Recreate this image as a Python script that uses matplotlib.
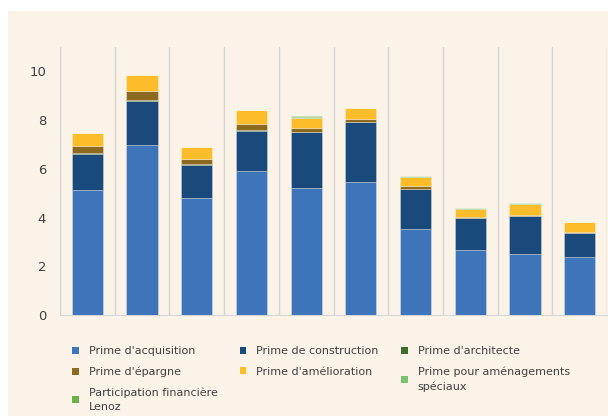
import matplotlib
matplotlib.use("Agg")
import matplotlib.pyplot as plt
from matplotlib.patches import Rectangle, Patch
import numpy as np

categories = [str(i) for i in range(1, 11)]
acquisition = [5.15, 6.99, 4.82, 5.90, 5.23, 5.44, 3.54, 2.68, 2.52, 2.40]
construction = [1.47, 1.80, 1.33, 1.65, 2.27, 2.48, 1.62, 1.29, 1.54, 0.96]
architecte = [0.03, 0.05, 0.04, 0.03, 0.02, 0.02, 0.03, 0.03, 0.01, 0.01]
epargne = [0.27, 0.35, 0.22, 0.25, 0.14, 0.10, 0.10, 0.02, 0.05, 0.04]
amelioration = [0.53, 0.68, 0.50, 0.59, 0.44, 0.44, 0.37, 0.33, 0.45, 0.40]
speciaux = [0.00, 0.00, 0.00, 0.00, 0.03, 0.00, 0.04, 0.04, 0.02, 0.00]
lenoz = [0.00, 0.00, 0.00, 0.00, 0.02, 0.00, 0.00, 0.00, 0.00, 0.00]

series = [
    ("Prime d'acquisition", acquisition, "#3E74BA"),
    ("Prime de construction", construction, "#1A4A7C"),
    ("Prime d'architecte", architecte, "#3F6B2E"),
    ("Prime d'épargne", epargne, "#8C6A20"),
    ("Prime d'amélioration", amelioration, "#FDBD2A"),
    ("Prime pour aménagements\nspéciaux", speciaux, "#7CC26E"),
    ("Participation financière\nLenoz", lenoz, "#6AB04C"),
]

plt.rcParams['font.family'] = ['DejaVu Sans']
text_color = "#404040"

fig = plt.figure(figsize=(6.08, 4.16), dpi=100, facecolor="white")
bg = "#FCF3E8"
fig.patches.append(Rectangle((8/608, 0), 1 - 8/608, (416-11)/416,
                             transform=fig.transFigure, facecolor=bg,
                             edgecolor="none", zorder=-10))

ax = fig.add_axes([60/608, 1 - 315/416, 547/608, (315-47)/416])
ax.set_facecolor(bg)

x = np.arange(len(categories))
bottom = np.zeros(len(categories))
handles = {}
for label, vals, color in series:
    v = np.array(vals)
    ax.bar(x, v, 0.57, bottom=bottom, color=color,
           edgecolor=(1, 1, 1, 0.35), linewidth=0.6, zorder=3)
    handles[label] = Patch(facecolor=color, edgecolor="none", label=label)
    bottom += v

ax.set_xlim(-0.5, len(categories) - 0.5)
ax.set_ylim(0, 11)
ax.set_yticks([0, 2, 4, 6, 8, 10])
ax.set_xticks([])
for b in np.arange(-0.5, len(categories), 1.0):
    ax.axvline(b, color="#D6D6D6", linewidth=1.0, zorder=1)
ax.tick_params(axis='y', length=0, pad=10, labelsize=9.5, labelcolor=text_color)
for s in ["top", "right"]:
    ax.spines[s].set_visible(False)
ax.spines["left"].set_color("#D6D6D6")
ax.spines["bottom"].set_color("#D6D6D6")

order = ["Prime d'acquisition", "Prime d'épargne", "Participation financière\nLenoz",
         "Prime de construction", "Prime d'amélioration",
         "Prime d'architecte", "Prime pour aménagements\nspéciaux"]
leg = fig.legend([handles[k] for k in order], order, ncol=3,
                 loc="upper left", bbox_to_anchor=(72/608, 1 - 346/416),
                 frameon=False, fontsize=8, handlelength=0.6, handleheight=0.6,
                 handletextpad=0.9, columnspacing=2.0, labelspacing=0.95,
                 borderaxespad=0, borderpad=0)
for t in leg.get_texts():
    t.set_color(text_color)
    t.set_linespacing(1.5)

fig.savefig("out.png", dpi=100, facecolor="white")
